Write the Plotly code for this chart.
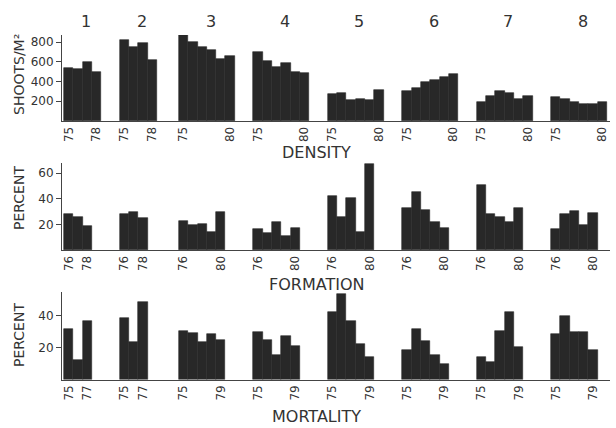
import plotly.graph_objects as go

# ---------------- data ----------------
groups = ["1", "2", "3", "4", "5", "6", "7", "8"]

density_years = [[75, 76, 77, 78], [75, 76, 77, 78]] + [[75, 76, 77, 78, 79, 80]] * 6
density = [
    [540, 530, 595, 495],
    [820, 745, 795, 620],
    [870, 805, 745, 720, 625, 660],
    [700, 610, 550, 585, 500, 485],
    [275, 285, 215, 225, 210, 310],
    [300, 335, 390, 420, 450, 475],
    [190, 250, 305, 285, 225, 255],
    [245, 225, 195, 175, 175, 195],
]

formation_years = [[76, 77, 78], [76, 77, 78]] + [[76, 77, 78, 79, 80]] * 6
formation = [
    [28.0, 25.5, 18.5],
    [27.9, 29.5, 25.2],
    [22.7, 19.5, 20.5, 14.3, 29.9],
    [16.1, 13.5, 22.1, 11.2, 17.4],
    [42.2, 26.0, 40.6, 14.3, 67.5],
    [33.0, 45.0, 31.0, 22.1, 17.0],
    [50.5, 28.1, 25.5, 22.1, 32.6],
    [16.4, 27.9, 30.2, 19.5, 28.7],
]

mortality_years = [[75, 76, 77], [75, 76, 77]] + [[75, 76, 77, 78, 79]] * 6
mortality = [
    [31.9, 12.3, 36.8],
    [38.5, 23.4, 48.7],
    [30.7, 29.1, 23.8, 28.4, 24.8],
    [29.7, 24.8, 15.4, 27.5, 21.3],
    [42.5, 54.0, 36.8, 22.3, 14.0],
    [18.7, 31.9, 24.2, 15.6, 9.9],
    [14.2, 10.8, 30.3, 42.6, 20.6],
    [28.4, 39.9, 29.9, 29.7, 18.7],
]

# ---------------- layout helpers ----------------
GAPS = [2, 2.35, 2, 2, 2, 2, 2]          # empty slots after each group
starts = []
pos = 0.0
for gi, yrs in enumerate(density_years):
    starts.append(pos)
    if gi < len(GAPS):
        pos += len(yrs) + GAPS[gi]

BAR = "#282828"
INK = "#333333"
FONT = "DejaVu Sans"


def positions(years_list):
    xs = []
    for gi, yrs in enumerate(years_list):
        xs.append([starts[gi] + i + 0.5 for i in range(len(yrs))])
    return xs


def ticks(years_list):
    vals, text = [], []
    for gi, yrs in enumerate(years_list):
        vals += [starts[gi] + 0.5, starts[gi] + len(yrs) - 0.5]
        text += [str(yrs[0]), str(yrs[-1])]
    return vals, text


fig = go.Figure()
panels = [
    (density_years, density, "x", "y"),
    (formation_years, formation, "x2", "y2"),
    (mortality_years, mortality, "x3", "y3"),
]
for yrs_list, vals, xa, ya in panels:
    xs = positions(yrs_list)
    flat_x = [v for g in xs for v in g]
    flat_y = [v for g in vals for v in g]
    fig.add_trace(go.Bar(x=flat_x, y=flat_y, width=1.0, xaxis=xa, yaxis=ya,
                         marker=dict(color=BAR, line=dict(color=BAR, width=0.6)),
                         showlegend=False, hoverinfo="skip"))

W, H = 616, 428
xdom = [62 / W, 610 / W]
xrange = [-0.215, 58.67]
ydoms = [
    [1 - 121 / H, 1 - 35 / H],
    [1 - 250 / H, 1 - 163 / H],
    [1 - 379.5 / H, 1 - 292 / H],
]
yranges = [[0, 871], [0, 68], [0, 55]]
ytickvals = [[200, 400, 600, 800], [20, 40, 60], [20, 40]]

axis_font = dict(family=FONT, size=12, color=INK)
lay = {}
for k, (yrs_list, _, xa, ya) in enumerate(panels):
    tv, tt = ticks(yrs_list)
    xname = "xaxis" if k == 0 else f"xaxis{k+1}"
    yname = "yaxis" if k == 0 else f"yaxis{k+1}"
    lay[xname] = dict(domain=xdom, range=xrange, anchor=ya, tickmode="array",
                      tickvals=tv, ticktext=tt, tickangle=-90, ticks="",
                      showline=True, linecolor="#444", linewidth=1,
                      showgrid=False, zeroline=False, tickfont=axis_font,
                      fixedrange=True)
    lay[yname] = dict(domain=ydoms[k], range=yranges[k], anchor=xa,
                      tickmode="array", tickvals=ytickvals[k], ticks="outside",
                      ticklen=5, tickcolor="#444", showline=True,
                      linecolor="#444", linewidth=1, showgrid=False,
                      zeroline=False, tickfont=axis_font, fixedrange=True)

annotations = []
for gi, g in enumerate(groups):
    cx = starts[gi] + len(density_years[gi]) / 2 + 0.4
    annotations.append(dict(x=cx, xref="x", y=1 - 21 / H, yref="paper",
                            xanchor="center", yanchor="middle",
                            text=g, showarrow=False,
                            font=dict(family=FONT, size=16, color=INK)))
for text, ypix in [("DENSITY", 153), ("FORMATION", 284), ("MORTALITY", 416)]:
    annotations.append(dict(x=316 / W, xref="paper", y=1 - ypix / H, yref="paper",
                            xanchor="center", yanchor="middle",
                            text=text, showarrow=False,
                            font=dict(family=FONT, size=16, color=INK)))
for text, ypix in [("SHOOTS/M²", 75), ("PERCENT", 198), ("PERCENT", 335)]:
    annotations.append(dict(x=19 / W, xref="paper", y=1 - ypix / H, yref="paper",
                            xanchor="center", yanchor="middle",
                            text=text, showarrow=False, textangle=-90,
                            font=dict(family=FONT, size=14, color=INK)))

fig.update_layout(width=W, height=H, margin=dict(l=0, r=0, t=0, b=0),
                  paper_bgcolor="white", plot_bgcolor="white",
                  bargap=0, annotations=annotations, **lay)

fig.write_html("out.html")
